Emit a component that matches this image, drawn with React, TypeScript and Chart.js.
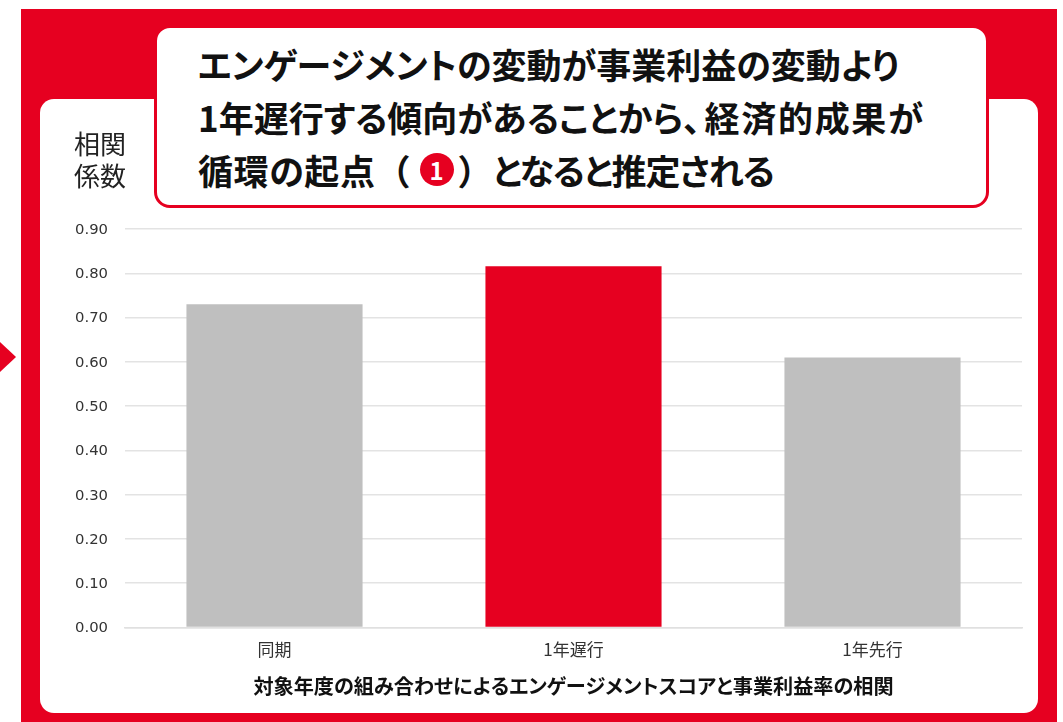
import React, { useEffect, useRef } from "react";
import { Chart, registerables } from "chart.js";

Chart.register(...registerables);

const categories = ["同期", "1年遅行", "1年先行"];
const correlations = [0.73, 0.816, 0.61];
const barColors = ["#bfbfbf", "#e60020", "#bfbfbf"];
const yTicks = [0, 0.1, 0.2, 0.3, 0.4, 0.5, 0.6, 0.7, 0.8, 0.9];
const xAxisTitle = "対象年度の組み合わせによるエンゲージメントスコアと事業利益率の相関";
const headingFirst = "エンゲージメントの変動が事業利益の変動より";
const headingSecond = ["1年遅行する傾向があることから、", "経済的成果が"];
const headingThird = ["循環の起点", "（", "）", "となると推定される"];

const RED = "#e60020";
const CJK = '"Noto Sans CJK JP", "Noto Sans", sans-serif';

export default function App() {
  const canvasRef = useRef<HTMLCanvasElement>(null);

  useEffect(() => {
    // Proportional kana metrics also apply to the canvas text of the axis title.
    canvasRef.current!.style.fontFeatureSettings = '"palt"';
    const chart = new Chart(canvasRef.current!, {
      type: "bar",
      data: {
        labels: categories,
        datasets: [
          {
            data: correlations,
            backgroundColor: barColors,
            barPercentage: 0.589,
            categoryPercentage: 1,
          },
        ],
      },
      options: {
        animation: false,
        responsive: false,
        layout: { padding: { left: 60, right: 41, top: 229, bottom: 24 } },
        plugins: { legend: { display: false }, title: { display: false }, tooltip: { enabled: false } },
        scales: {
          x: {
            grid: { display: false },
            border: { color: "#e0e0e0", width: 1.5 },
            ticks: {
              color: "#333333",
              padding: 4,
              font: { family: CJK, size: 17 },
            },
            title: {
              display: true,
              text: xAxisTitle,
              color: "#111111",
              padding: { top: 4, bottom: 0 },
              font: { family: CJK, size: 20.15, weight: "bold" },
            },
            afterFit(scale: any) {
              scale.height = 70.5;
            },
          },
          y: {
            min: 0,
            max: 0.9,
            afterFit(scale: any) {
              scale.width = 65;
            },
            afterBuildTicks(scale: any) {
              scale.ticks = yTicks.map((value) => ({ value }));
            },
            grid: { color: "#e3e3e3", lineWidth: 1.5, drawTicks: false },
            border: { display: false },
            ticks: {
              color: "#333333",
              padding: 17,
              labelOffset: 1,
              font: { family: '"DejaVu Sans", sans-serif', size: 14.8 },
              callback: (v: any) => Number(v).toFixed(2),
            },
          },
        },
      },
    });
    return () => chart.destroy();
  }, []);

  const fullWidth = { fontFeatureSettings: "normal" };

  return (
    <div style={{ position: "absolute", left: 0, top: 0, width: 1063, height: 722, overflow: "hidden", background: "#fff", fontFamily: CJK }}>
      <div style={{ position: "absolute", left: 21, top: 9, width: 1036, height: 713, background: RED }} />
      <div style={{ position: "absolute", left: 0, top: 342, width: 0, height: 0, borderTop: "15px solid transparent", borderBottom: "15px solid transparent", borderLeft: `16px solid ${RED}` }} />
      <div style={{ position: "absolute", left: 40, top: 99, width: 998, height: 614, background: "#fff", borderRadius: 14 }} />
      <canvas ref={canvasRef} width={1063} height={722} style={{ position: "absolute", left: 0, top: 0 }} />
      <div style={{ position: "absolute", left: 74, top: 127, fontSize: 26, lineHeight: "32px", color: "#222" }}>
        相関
        <br />
        係数
      </div>
      <div
        style={{
          position: "absolute",
          left: 154,
          top: 25,
          width: 835,
          height: 183,
          boxSizing: "border-box",
          background: "#fff",
          border: `3px solid ${RED}`,
          borderRadius: 16,
        }}
      />
      <div
        style={{
          position: "absolute",
          left: 198,
          top: 37,
          fontSize: 35,
          fontWeight: 700,
          fontFeatureSettings: '"palt"',
          lineHeight: "53px",
          color: "#111",
          whiteSpace: "nowrap",
        }}
      >
        <div>{headingFirst}</div>
        <div>
          {headingSecond[0]}
          <span style={{ marginLeft: 4, letterSpacing: 1.7 }}>{headingSecond[1]}</span>
        </div>
        <div>
          <span style={{ letterSpacing: 0.6 }}>{headingThird[0]}</span>
          <span style={fullWidth}>{headingThird[1]}</span>
          <span
            style={{
              display: "inline-block",
              width: 34,
              height: 33,
              margin: "0 4px 0 9px",
              borderRadius: "50%",
              background: RED,
              color: "#fff",
              fontSize: 24,
              lineHeight: "33px",
              textAlign: "center",
              verticalAlign: "5px",
            }}
          >
            1
          </span>
          <span style={fullWidth}>{headingThird[2]}</span>
          <span style={{ letterSpacing: -1.2 }}>{headingThird[3]}</span>
        </div>
      </div>
    </div>
  );
}
